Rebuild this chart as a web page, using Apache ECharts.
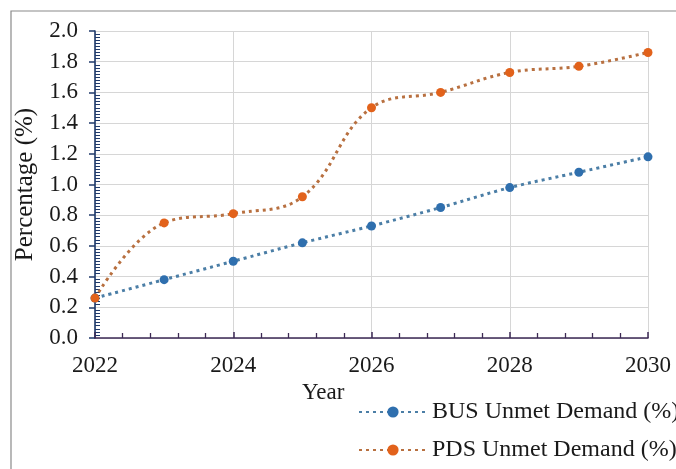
<!DOCTYPE html>
<html>
<head>
<meta charset="utf-8">
<script src="https://cdn.jsdelivr.net/npm/echarts@6/dist/echarts.min.js"></script>
<style>
  html, body { margin: 0; padding: 0; background: #fff; }
  #chart { width: 676px; height: 469px; }
</style>
</head>
<body>
<div id="chart"></div>
<script>
// Yearly unmet demand, in percent
const years = [2022, 2023, 2024, 2025, 2026, 2027, 2028, 2029, 2030];
const busUnmet = [0.26, 0.38, 0.50, 0.62, 0.73, 0.85, 0.98, 1.08, 1.18];
const pdsUnmet = [0.26, 0.75, 0.81, 0.92, 1.50, 1.60, 1.73, 1.77, 1.86];
const seriesNames = ['BUS Unmet Demand (%)', 'PDS Unmet Demand (%)'];

const serif = '"Liberation Serif", "DejaVu Serif", serif';
const textColor = '#1a1a1a';
const fontSize = 23;

const pairs = (vals) => years.map((y, i) => [y, vals[i]]);

const legendBase = {
  orient: 'vertical',
  left: 353,
  itemWidth: 68, itemHeight: 14,
  textStyle: { fontFamily: serif, fontSize: 24, color: textColor }
};

const chart = echarts.init(document.getElementById('chart'));
chart.setOption({
  animation: false,
  backgroundColor: '#fff',
  grid: { left: 95, right: 28, top: 31, bottom: 131, containLabel: false, outerBoundsMode: 'none' },
  graphic: [
    {
      type: 'rect',
      shape: { x: 11, y: 11, width: 700, height: 500 },
      style: { fill: 'none', stroke: '#8a8a8a', lineWidth: 1.2 },
      z: -1
    },
    {
      type: 'text',
      left: 302, top: 381,
      style: { text: 'Year', font: fontSize + 'px ' + serif, fill: textColor }
    }
  ],
  xAxis: {
    type: 'value',
    min: 2022, max: 2030, interval: 2,
    axisLine: { show: true, lineStyle: { color: '#3d2a55', width: 1.6 } },
    axisTick: { show: true, inside: true, length: 6, lineStyle: { color: '#3d2a55', width: 1.5 } },
    minorTick: { show: true, splitNumber: 5, length: 5, lineStyle: { color: '#3d2a55', width: 1.3 } },
    splitLine: { show: true, lineStyle: { color: '#d6d6d6', width: 1 } },
    axisLabel: {
      margin: 16, fontFamily: serif, fontSize: fontSize, color: textColor,
      formatter: (v) => String(v)
    }
  },
  yAxis: [
    {
      type: 'value',
      min: 0, max: 2, interval: 0.2,
      name: 'Percentage (%)',
      nameLocation: 'middle',
      nameGap: 57,
      nameTextStyle: { fontFamily: serif, fontSize: 25, color: textColor },
      axisLine: { show: true, lineStyle: { color: '#1f3a6b', width: 1.6 } },
      axisTick: { show: true, inside: false, length: 6, lineStyle: { color: '#1f3a6b', width: 1.5 } },
      splitLine: { show: true, lineStyle: { color: '#d6d6d6', width: 1 } },
      axisLabel: {
        margin: 17, fontFamily: serif, fontSize: fontSize, color: textColor,
        formatter: (v) => v.toFixed(1)
      }
    },
    {
      // overlay axis carrying the dense inner minor ticks
      type: 'value',
      position: 'left',
      min: 0, max: 2, interval: 0.2,
      axisLine: { show: false },
      axisTick: { show: false, inside: true },
      minorTick: { show: true, splitNumber: 10, length: 5, lineStyle: { color: '#1f3a6b', width: 1 } },
      splitLine: { show: false },
      axisLabel: { show: false }
    }
  ],
  legend: [
    Object.assign({}, legendBase, { top: 395, data: [seriesNames[0]] }),
    Object.assign({}, legendBase, { top: 433, data: [seriesNames[1]] })
  ],
  series: [
    {
      name: seriesNames[0],
      type: 'line',
      data: pairs(busUnmet),
      smooth: 0.3,
      symbol: 'circle', symbolSize: 9,
      itemStyle: { color: '#2f6fae' },
      lineStyle: { color: '#4b7ea6', width: 3, type: [3, 4] },
      z: 2
    },
    {
      name: seriesNames[1],
      type: 'line',
      data: pairs(pdsUnmet),
      smooth: 0.4,
      symbol: 'circle', symbolSize: 9,
      itemStyle: { color: '#e2621b' },
      lineStyle: { color: '#b87040', width: 3, type: [3, 4] },
      z: 3
    }
  ]
});
</script>
</body>
</html>
